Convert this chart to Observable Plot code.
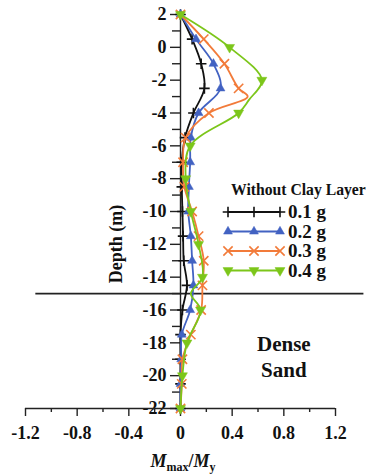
<!DOCTYPE html>
<html><head><meta charset="utf-8">
<script src="https://cdn.jsdelivr.net/npm/d3@7"></script>
<script src="https://cdn.jsdelivr.net/npm/@observablehq/plot@0.6"></script>
<style>body{margin:0;background:#fff} svg{display:block}</style>
</head><body><div id="chart"></div>
<script>
// Depths (m) sampled for 0.1 g, 0.2 g, 0.3 g
const depthA = [2, 0.5, -1, -2.5, -4, -5.5, -7, -8.5, -10, -11.5, -13, -14.5, -16, -17.5, -19, -20.5, -22];
const g01 = [0, 0.09, 0.16, 0.185, 0.10, 0.035, 0.01, 0.01, 0.015, 0.02, 0.025, 0.05, 0.015, 0.0, 0.0, 0.0, 0];
const g02 = [0, 0.12, 0.255, 0.31, 0.14, 0.08, 0.075, 0.065, 0.06, 0.08, 0.09, 0.10, 0.075, 0.01, 0.005, 0, 0];
const depthB = [2, 0.5, -1, -2.5, -3, -4, -5.5, -7, -8.5, -10, -11.5, -13, -14.5, -16, -17.5, -19, -20.5, -22];
const g03 = [0, 0.18, 0.34, 0.45, 0.52, 0.22, 0.04, 0.02, 0.03, 0.09, 0.14, 0.18, 0.17, 0.16, 0.08, 0.015, 0.01, 0];
const orangeNoMarker = [-3];
const depthC = [2, 0, -2, -3.2, -4, -6, -8, -10, -12, -14, -15, -16, -18, -20, -22];
const g04 = [0, 0.38, 0.63, 0.53, 0.45, 0.075, 0.04, 0.08, 0.14, 0.17, 0.08, 0.155, 0.05, 0.015, 0];
const greenNoMarker = [-3.2, -15];

const seriesNames = ["0.1 g", "0.2 g", "0.3 g", "0.4 g"];
const legendTitle = "Without Clay Layer";
const yTicks = [2, 0, -2, -4, -6, -8, -10, -12, -14, -16, -18, -20, -22];
const yMinor = [1, -1, -3, -5, -7, -9, -11, -13, -15, -17, -19, -21];
const xTicks = [-1.2, -0.8, -0.4, 0, 0.4, 0.8, 1.2];
const xTickLabels = ["-1.2", "-0.8", "-0.4", "0", "0.4", "0.8", "1.2"];
const xMinor = [-1.0, -0.6, -0.2, 0.2, 0.6, 1.0];
const layerDepth = -15;
const soilLabel = ["Dense", "Sand"];

const colors = ["#111111", "#4262C2", "#F27B3A", "#7CC61A"];
const FONT = "Liberation Serif, Times New Roman, serif";

function rows(depths, vals, skip = []) {
  return depths.map((d, i) => ({d, v: vals[i], m: !skip.includes(d)}));
}
const series = [
  {name: seriesNames[0], color: colors[0], symbol: "plus", r: 3.5, rotate: 0, filled: false, data: rows(depthA, g01)},
  {name: seriesNames[1], color: colors[1], symbol: "triangle", r: 3.3, rotate: 0, filled: true, data: rows(depthA, g02)},
  {name: seriesNames[2], color: colors[2], symbol: "times", r: 4.3, rotate: 0, filled: false, data: rows(depthB, g03, orangeNoMarker)},
  {name: seriesNames[3], color: colors[3], symbol: "triangle", r: 3.7, rotate: 180, filled: true, data: rows(depthC, g04, greenNoMarker)}
];

const pxPerUnitX = 310 / 2.4;
const pxPerUnitY = 394 / 24;
const marks = [];
// layer boundary
marks.push(Plot.ruleY([layerDepth], {x1: () => -1.12, x2: () => 1.42, stroke: "#222", strokeWidth: 1.6}));
// y axis
marks.push(Plot.ruleX([0], {y1: () => -22, y2: () => 2, stroke: "#222", strokeWidth: 1.4}));
marks.push(Plot.ruleY(yTicks, {x1: () => -10 / pxPerUnitX, x2: () => 0, stroke: "#222", strokeWidth: 1.4}));
marks.push(Plot.ruleY(yMinor, {x1: () => -8 / pxPerUnitX, x2: () => 0, stroke: "#222", strokeWidth: 1.4}));
marks.push(Plot.text(yTicks, {x: () => -14 / pxPerUnitX, y: d => d, text: d => String(d), textAnchor: "end",
  fontSize: 18, fontWeight: "bold", fontFamily: FONT, fill: "#111"}));
// x axis
marks.push(Plot.ruleY([-22], {x1: () => -1.2, x2: () => 1.2, stroke: "#222", strokeWidth: 1.4}));
marks.push(Plot.ruleX(xTicks, {y1: () => -22, y2: () => -22 - 8 / pxPerUnitY, stroke: "#222", strokeWidth: 1.4}));
marks.push(Plot.ruleX(xMinor, {y1: () => -22, y2: () => -22 - 4 / pxPerUnitY, stroke: "#222", strokeWidth: 1.4}));
marks.push(Plot.text(xTicks, {x: d => d, y: () => -22 - 25 / pxPerUnitY, text: (d, i) => xTickLabels[i],
  fontSize: 18, fontWeight: "bold", fontFamily: FONT, fill: "#111"}));
// series
for (const s of series) {
  marks.push(Plot.line(s.data, {x: "v", y: "d", curve: "catmull-rom", stroke: s.color, strokeWidth: 1.8}));
  marks.push(Plot.dot(s.data.filter(p => p.m), {x: "v", y: "d", symbol: s.symbol, r: s.r, rotate: s.rotate,
    stroke: s.color, fill: s.filled ? s.color : "none", strokeWidth: s.filled ? 0.5 : 1.6}));
}
// annotations
marks.push(Plot.text(soilLabel, {x: () => 0.8, y: (d, i) => -18.1 - i * 1.6, text: d => d,
  fontSize: 21, fontWeight: "bold", fontFamily: FONT, fill: "#111"}));

const chart = Plot.plot({
  width: 366, height: 474,
  marginLeft: 25, marginRight: 31, marginTop: 14, marginBottom: 66,
  x: {domain: [-1.2, 1.2], axis: null},
  y: {domain: [-22, 2], axis: null},
  style: {fontFamily: FONT, background: "#fff", overflow: "visible"},
  marks
});
document.getElementById("chart").append(chart);

// axis titles and legend
const svg = d3.select(chart);
svg.append("text").attr("transform", "translate(122,244) rotate(-90)")
  .attr("text-anchor", "middle").attr("font-family", FONT).attr("font-weight", "bold").attr("font-size", 18)
  .attr("fill", "#111").text("Depth (m)");
const t = svg.append("text").attr("x", 183).attr("y", 467).attr("text-anchor", "middle")
  .attr("font-family", FONT).attr("font-weight", "bold").attr("font-size", 18).attr("fill", "#111");
t.append("tspan").attr("font-style", "italic").text("M");
t.append("tspan").attr("font-size", 12).attr("dy", 3.5).text("max");
t.append("tspan").attr("dy", -3.5).text("/");
t.append("tspan").attr("font-style", "italic").text("M");
t.append("tspan").attr("font-size", 12).attr("dy", 3.5).text("y");

const lg = svg.append("g");
lg.append("text").attr("x", 231).attr("y", 195).attr("text-anchor", "start").attr("font-family", FONT)
  .attr("font-weight", "bold").attr("font-size", 15.7).attr("fill", "#111").text(legendTitle);
const symMap = {plus: d3.symbolPlus, times: d3.symbolTimes, triangle: d3.symbolTriangle};
series.forEach((s, i) => {
  const y = 212 + i * 19.5;
  lg.append("line").attr("x1", 228).attr("x2", 280).attr("y1", y).attr("y2", y)
    .attr("stroke", s.color).attr("stroke-width", 1.8);
  for (const x of [228, 254, 280]) {
    lg.append("path").attr("d", d3.symbol(symMap[s.symbol], Math.PI * s.r * s.r)())
      .attr("transform", `translate(${x},${y}) rotate(${s.rotate})`)
      .attr("fill", s.filled ? s.color : "none").attr("stroke", s.color)
      .attr("stroke-width", s.filled ? 0.5 : 1.6);
  }
  lg.append("text").attr("x", 288).attr("y", y + 6).attr("text-anchor", "start").attr("font-family", FONT)
    .attr("font-weight", "bold").attr("font-size", 19).attr("fill", "#111").text(s.name);
});
</script>
</body></html>
